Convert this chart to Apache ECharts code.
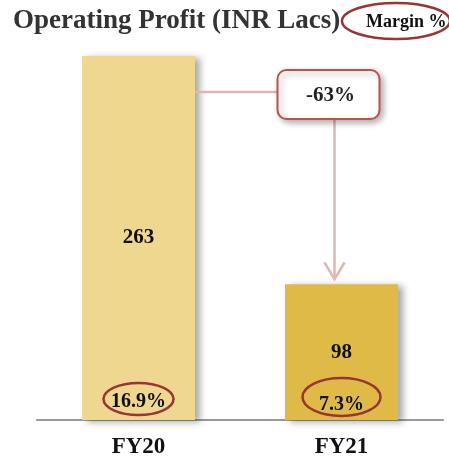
<!DOCTYPE html>
<html>
<head>
  <meta charset="utf-8">
  <script src="https://cdn.jsdelivr.net/npm/echarts@6/dist/echarts.min.js"></script>
  <style>
    html, body { margin: 0; padding: 0; background: #fff; }
    #main { width: 449px; height: 463px; }
  </style>
</head>
<body>
<div id="main"></div>
<script>
var categories = ['FY20', 'FY21'];
var profit = [263, 98];
var margins = ['16.9%', '7.3%'];
var changeLabel = '-63%';
var barColors = ['#EFD78F', '#DFBA47'];

var FONT = '"Liberation Serif", "DejaVu Serif", serif';
var RED = '#9A3535';

var chart = echarts.init(document.getElementById('main'));
chart.setOption({
  animation: false,
  title: {
    text: 'Operating Profit (INR Lacs)',
    left: 8, top: 3,
    textStyle: { fontFamily: FONT, fontWeight: 'bold', fontSize: 27, color: '#333' }
  },
  grid: { left: 37, right: 6, top: 56, bottom: 43 },
  xAxis: {
    type: 'category',
    data: categories,
    axisLine: { lineStyle: { color: '#9a9a9a', width: 2 } },
    axisTick: { show: false },
    axisLabel: { fontFamily: FONT, fontWeight: 'bold', fontSize: 23, color: '#111', margin: 16 }
  },
  yAxis: { type: 'value', min: 0, max: 263, show: false, splitLine: { show: false } },
  series: [{
    type: 'bar',
    barWidth: 113,
    data: profit.map(function (v, i) {
      return { value: v, itemStyle: { color: barColors[i] } };
    }),
    itemStyle: {
      shadowColor: 'rgba(0,0,0,0.35)', shadowBlur: 7, shadowOffsetX: 5, shadowOffsetY: 2
    },
    label: {
      show: true, position: 'inside',
      fontFamily: FONT, fontWeight: 'bold', fontSize: 21, color: '#111'
    }
  }]
});

// annotations placed from the chart's own scales
var p0 = chart.convertToPixel({ seriesIndex: 0 }, [0, profit[0]]);
var p1 = chart.convertToPixel({ seriesIndex: 0 }, [1, profit[1]]);
var base0 = chart.convertToPixel({ seriesIndex: 0 }, [0, 0]);
var base1 = chart.convertToPixel({ seriesIndex: 0 }, [1, 0]);
var half = 56.5;

var lineY = p0[1] + 36;
var boxW = 102, boxH = 49;
var boxX = p1[0] - 13 - boxW / 2, boxY = p0[1] + 14;
var arrowX = p1[0] - 7;
var arrowEnd = p1[1] - 5;

var LINK = '#E6B3B3';
var graphics = [
  // title "Margin %" badge
  { type: 'ellipse', shape: { cx: 396, cy: 21, rx: 54, ry: 18 },
    style: { fill: 'none', stroke: RED, lineWidth: 2.5 }, z: 10 },
  { type: 'text', x: 366, y: 22,
    style: { text: 'Margin %', fontFamily: FONT, fontWeight: 'bold', fontSize: 18, fill: '#111', verticalAlign: 'middle' }, z: 10 },
  // connector
  { type: 'line', shape: { x1: p0[0] + half, y1: lineY, x2: boxX, y2: lineY },
    style: { stroke: LINK, lineWidth: 2.5 }, z: 5 },
  { type: 'line', shape: { x1: arrowX, y1: boxY + boxH, x2: arrowX, y2: arrowEnd },
    style: { stroke: LINK, lineWidth: 2.5 }, z: 5 },
  { type: 'polyline', shape: { points: [[arrowX - 10, arrowEnd - 17], [arrowX, arrowEnd], [arrowX + 10, arrowEnd - 17]] },
    style: { stroke: LINK, lineWidth: 2.5, fill: 'none' }, z: 5 },
  { type: 'rect', shape: { x: boxX, y: boxY, width: boxW, height: boxH, r: 9 },
    style: { fill: '#fff', stroke: '#C0504D', lineWidth: 2,
      shadowColor: 'rgba(0,0,0,0.3)', shadowBlur: 6, shadowOffsetX: 3, shadowOffsetY: 3 }, z: 6 },
  { type: 'text', x: boxX + boxW / 2 + 2, y: boxY + boxH / 2 + 1,
    style: { text: changeLabel, fontFamily: FONT, fontWeight: 'bold', fontSize: 21, fill: '#222', align: 'center', verticalAlign: 'middle' }, z: 7 }
];

// margin ellipses at the base of each bar
[base0, base1].forEach(function (b, i) {
  var rx = i === 0 ? 35 : 39, ry = i === 0 ? 16 : 19;
  var cy = b[1] - (i === 0 ? 21 : 23);
  graphics.push({ type: 'ellipse', shape: { cx: b[0], cy: cy, rx: rx, ry: ry },
    style: { fill: 'none', stroke: RED, lineWidth: 2.5 }, z: 8 });
  graphics.push({ type: 'text', x: b[0], y: cy + (i === 0 ? 3 : 8),
    style: { text: margins[i], fontFamily: FONT, fontWeight: 'bold', fontSize: 20, fill: '#111', align: 'center', verticalAlign: 'middle' }, z: 9 });
});

chart.setOption({ graphic: graphics });
</script>
</body>
</html>
